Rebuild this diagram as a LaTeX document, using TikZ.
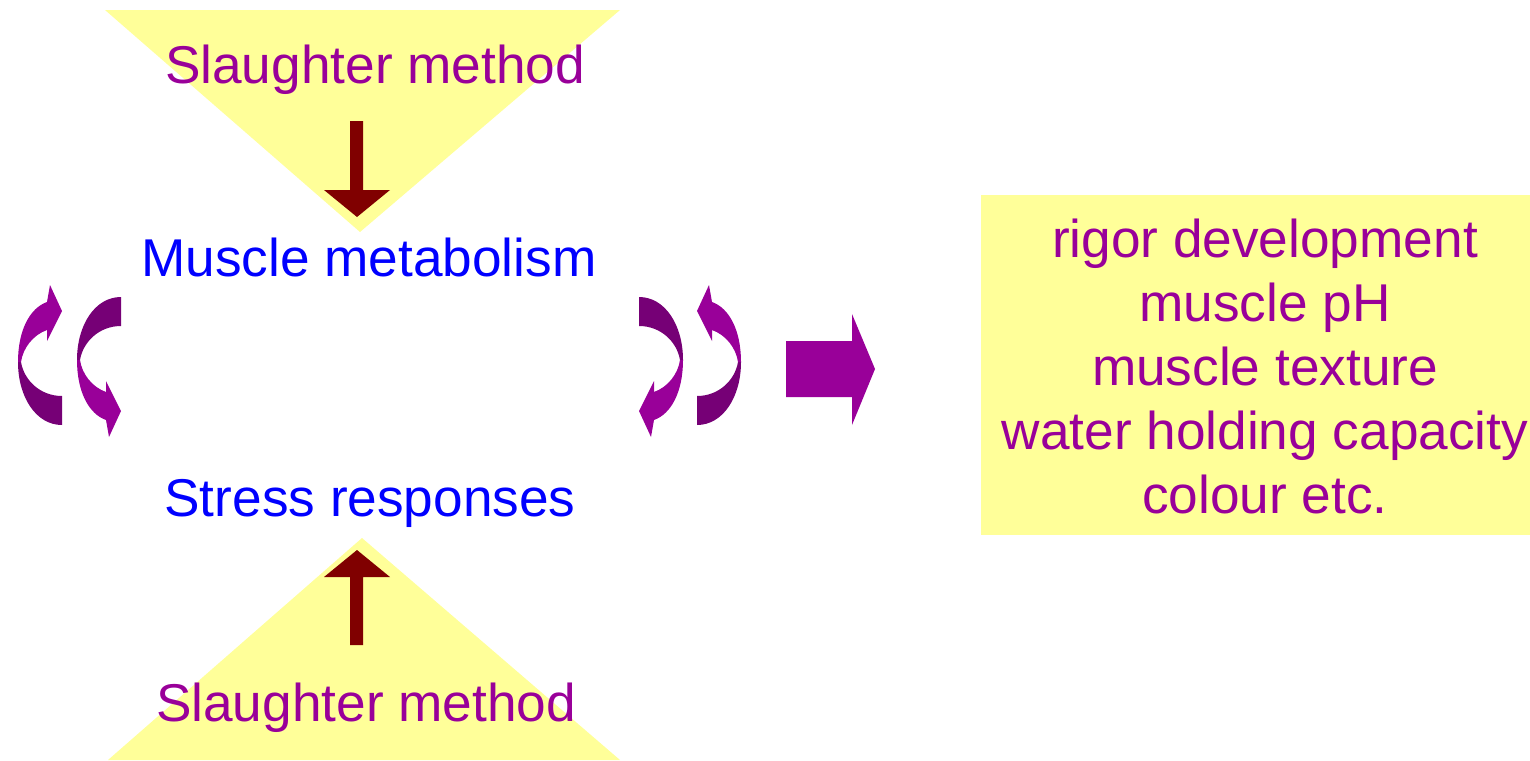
\documentclass[tikz,border=0pt]{standalone}
\usepackage{fontspec}
\setmainfont{Liberation Sans}
\definecolor{paleyellow}{RGB}{255,255,153}
\definecolor{brightpurple}{RGB}{153,0,153}
\definecolor{darkpurple}{RGB}{118,0,118}
\definecolor{darkred}{RGB}{128,0,0}
\begin{document}
\begin{tikzpicture}[x=0.5pt, y=-0.5pt,
	txt/.style={font=\fontsize{26.6}{32}\selectfont, inner sep=0pt, anchor=base},
	bend arrow/.pic={
		\fill[darkpurple] (22,64) .. controls (-4,64) and (-22,36) .. (-22,1) -- (-19,1) .. controls (-16,19) and (0,35) .. (22,35) -- cycle;
		\fill[brightpurple] (-22,1) .. controls (-22,-31) and (-10,-53) .. (7,-59) -- (10,-76) -- (22,-50) -- (7,-20) -- (7,-31) .. controls (-7,-26) and (-17,-13) .. (-19,1) -- cycle;
	}]
	\useasboundingbox (0,0) rectangle (1530,760);
	% yellow backgrounds
	\fill[paleyellow] (105,10) -- (620,10) -- (360,232) -- cycle;
	\fill[paleyellow] (108,760) -- (620,760) -- (362,538) -- cycle;
	\fill[paleyellow] (981,195) rectangle (1530,535);
	% texts
	\node[txt, text=brightpurple] (topmethod) at (375,83) {Slaughter method};
	\node[txt, text=blue] (metabolism) at (369,276) {Muscle metabolism};
	\node[txt, text=blue] (stress) at (370,516) {Stress responses};
	\node[txt, text=brightpurple] (botmethod) at (366,721) {Slaughter method};
	\foreach \t [count=\i] in {rigor development, muscle pH, muscle texture, water holding capacity, colour etc.}
		\node[txt, text=brightpurple] (quality\i) at (1265,193+64*\i) {\t};
	% block arrows
	\fill[darkred] (350,121) -- (363,121) -- (363,190) -- (390,190) -- (357,217) -- (324,190) -- (350,190) -- cycle;
	\fill[darkred] (350,645) -- (363,645) -- (363,577) -- (390,577) -- (357,550) -- (324,577) -- (350,577) -- cycle;
	\fill[brightpurple] (786,341) -- (852,341) -- (852,314) -- (875,369) -- (852,425) -- (852,397) -- (786,397) -- cycle;
	% curved arrows
	\pic at (40,361) {bend arrow};
	\pic[yscale=-1] at (99,361) {bend arrow};
	\pic[xscale=-1, yscale=-1] at (661,361) {bend arrow};
	\pic[xscale=-1] at (719,361) {bend arrow};
\end{tikzpicture}
\end{document}
